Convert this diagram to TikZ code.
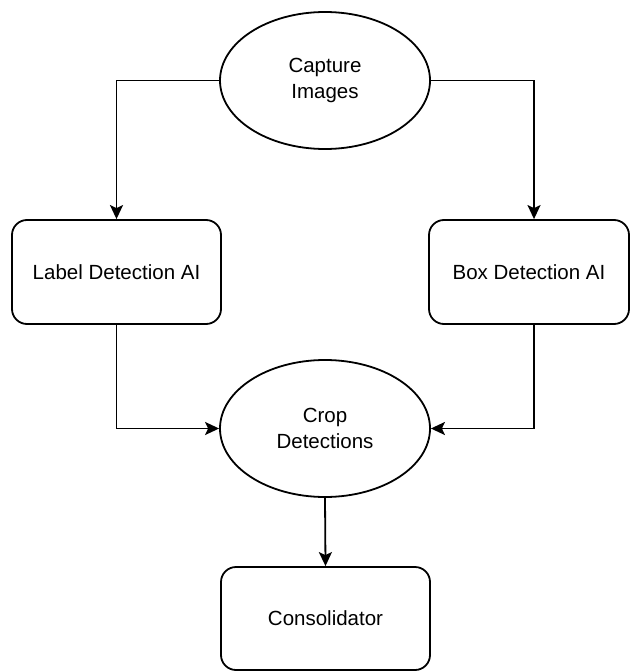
\documentclass[tikz,border=0pt]{standalone}
\usepackage{fontspec}
\setmainfont{Liberation Sans}
\usetikzlibrary{shapes.geometric,arrows.meta}
\begin{document}
\begin{tikzpicture}[x=1pt,y=-1pt,
  oval/.style={draw=black,line width=1.8pt,ellipse,minimum width=210pt,minimum height=137pt,inner sep=0pt,align=center,font=\fontsize{20.5}{26}\selectfont},
  stepbox/.style={draw=black,line width=1.8pt,rectangle,rounded corners=15pt,minimum height=104pt,inner sep=0pt,align=center,font=\fontsize{20.5}{26}\selectfont},
  link/.style={draw=black,line width=1.8pt,-{Stealth[length=14pt,width=13pt,inset=3pt]}}]
\useasboundingbox (0,0) rectangle (630,671);
% the two ovals
\node[oval] (capture) at (325,80.5) {Capture\\Images};
\node[oval] (crop) at (325,428.5) {Crop\\Detections};
% the three boxes
\node[stepbox,minimum width=209pt] (label) at (116.5,272) {Label Detection AI};
\node[stepbox,minimum width=200pt] (box) at (529,272) {Box Detection AI};
\node[stepbox,minimum width=209pt,minimum height=103pt] (consol) at (325.5,618.5) {Consolidator};
% the connectors
\draw[link] (capture.west) -| (label.north);
\draw[link] (capture.east) -| ([xshift=5pt]box.north);
\draw[link] (label.south) |- (crop.west);
\draw[link] ([xshift=5pt]box.south) |- (crop.east);
\draw[link] (crop.south) -- (consol.north);
\end{tikzpicture}
\end{document}
